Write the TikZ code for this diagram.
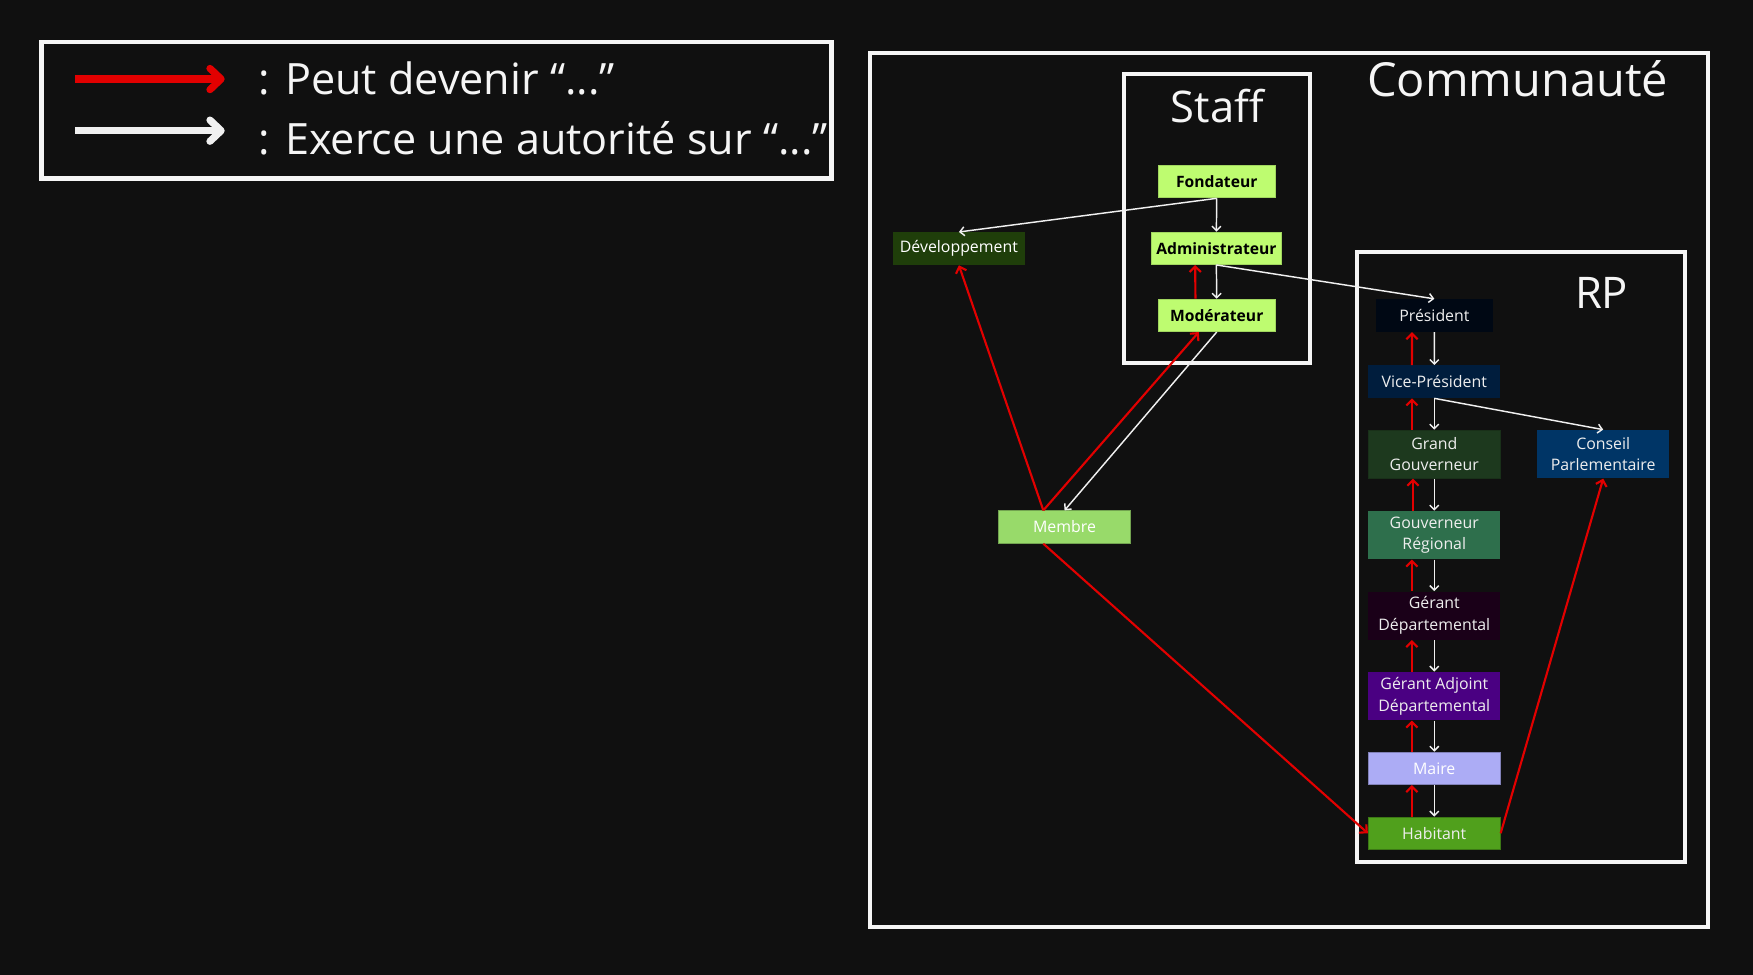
\documentclass[tikz,border=0pt]{standalone}
\usepackage{fontspec}
\setmainfont{Open Sans}
\usetikzlibrary{arrows.meta}
\definecolor{bgc}{RGB}{16,16,16}
\definecolor{framec}{RGB}{245,245,245}
\definecolor{txtc}{RGB}{238,238,238}
\definecolor{redc}{RGB}{226,0,0}
\definecolor{whc}{RGB}{240,240,240}
\definecolor{staffc}{RGB}{190,252,112}
\definecolor{devc}{RGB}{31,62,10}
\definecolor{membc}{RGB}{152,218,106}
\definecolor{presc}{RGB}{0,8,20}
\definecolor{vpc}{RGB}{0,29,61}
\definecolor{ggc}{RGB}{29,57,30}
\definecolor{cpc}{RGB}{0,53,102}
\definecolor{grc}{RGB}{46,111,76}
\definecolor{gdc}{RGB}{26,0,24}
\definecolor{gadc}{RGB}{74,0,130}
\definecolor{mairec}{RGB}{172,172,245}
\definecolor{habc}{RGB}{80,160,28}
\tikzset{
  rolebox/.style={inner sep=0pt, minimum height=14.5pt, minimum width=59pt,
    align=center, text=txtc, font=\fontsize{7.1}{9.7}\selectfont, line width=0.4pt},
  tallbox/.style={rolebox, minimum height=21.5pt},
  staffbox/.style={rolebox, fill=staffc, draw=staffc!85!black, text=black,
    font=\fontsize{7}{9.7}\selectfont\bfseries},
  frame/.style={draw=framec, line width=1.8pt},
  authority/.style={draw=whc, line width=0.65pt, -{Straight Barb[length=2pt,width=4pt]}},
  becomes/.style={draw=redc, line width=0.95pt, -{Straight Barb[length=2.5pt,width=5pt]}},
  legarrow/.style={line width=3.2pt, -{Straight Barb[length=5pt,width=9.5pt,round]}},
  titletext/.style={text=framec, inner sep=0pt, anchor=base},
  legtext/.style={titletext, anchor=base west, font=\fontsize{19.3}{23}\selectfont},
}
\begin{document}
\begin{tikzpicture}[x=0.5pt,y=-0.5pt]
\fill[bgc] (0,0) rectangle (1568,872);
\useasboundingbox (0,0) rectangle (1568,872);

% legend
\draw[frame, line width=2pt] (37.3,37.6) rectangle (743.9,159.5);
\coordinate (lr1) at (67,70.7);
\coordinate (lr2) at (201,70.7);
\coordinate (lw1) at (67,116.9);
\coordinate (lw2) at (201,116.9);
\draw[legarrow, redc] (lr1) -- (lr2);
\draw[legarrow, whc] (lw1) -- (lw2);
\node[legtext] (leg1) at (231,84.1) {: Peut devenir “...”};
\node[legtext] (leg2) at (231,137.8) {: Exerce une autorité sur “...”};

% frames
\draw[frame] (778,47.7) rectangle (1527.5,829.5);
\draw[frame] (1005.3,66) rectangle (1172,325);
\draw[frame] (1213.8,225) rectangle (1507.5,771);
\node[titletext, font=\fontsize{21}{25}\selectfont] (tcom) at (1357.5,86.5) {Communauté};
\node[titletext, font=\fontsize{19.5}{23}\selectfont] (tstaff) at (1088.9,109.4) {Staff};
\node[titletext, font=\fontsize{19.5}{23}\selectfont] (trp) at (1432.6,275.8) {RP};

% staff nodes
\node[staffbox, minimum width=52.2pt] (fond) at (1088.3,162.5) {Fondateur};
\node[staffbox, minimum width=57.8pt] (admin) at (1088,222.1) {Administrateur};
\node[staffbox, minimum width=52.2pt] (mod) at (1088.3,282.1) {Modérateur};

% community nodes
\node[rolebox, fill=devc, text=white] (dev) at (857.7,222.4) {Développement};
\node[rolebox, fill=membc, draw=membc!75!black, text=white] (memb) at (952.2,471.4) {Membre};

% RP nodes
\node[rolebox, fill=presc, minimum width=52.2pt] (pres) at (1283,282.2) {Président};
\node[rolebox, fill=vpc] (vp) at (1282.9,341.4) {Vice-Président};
\node[tallbox, fill=ggc, draw=ggc!85!black] (gg) at (1282.9,406.2) {Grand\\Gouverneur};
\node[tallbox, fill=cpc] (cp) at (1434,406.2) {Conseil\\Parlementaire};
\node[tallbox, fill=grc] (gr) at (1282.9,478.6) {Gouverneur\\Régional};
\node[tallbox, fill=gdc] (gd) at (1282.9,550.6) {Gérant\\Départemental};
\node[tallbox, fill=gadc] (gad) at (1282.9,622.6) {Gérant Adjoint\\Départemental};
\node[rolebox, fill=mairec, draw=mairec!75!black, text=white] (maire) at (1282.9,687.3) {Maire};
\node[rolebox, fill=habc, draw=habc!75!black] (hab) at (1282.9,745.3) {Habitant};

% authority (white)
\draw[authority] (fond.south) -- (admin.north);
\draw[authority] (fond.south) -- (dev.north);
\draw[authority] (admin.south) -- (mod.north);
\draw[authority] (admin.south) -- (pres.north);
\draw[authority] (mod.south) -- (memb.north);
\draw[authority] (pres.south) -- (vp.north);
\draw[authority] (vp.south) -- (gg.north);
\draw[authority] (vp.south) -- (cp.north);
\draw[authority] (gg.south) -- (gr.north);
\draw[authority] (gr.south) -- (gd.north);
\draw[authority] (gd.south) -- (gad.north);
\draw[authority] (gad.south) -- (maire.north);
\draw[authority] (maire.south) -- (hab.north);

% can become (red)
\draw[becomes] ([xshift=-9.5pt]mod.north) -- ([xshift=-9.5pt]admin.south);
\draw[becomes] ([xshift=-9.5pt]memb.north) -- (dev.south);
\draw[becomes] ([xshift=-9.5pt]memb.north) -- ([xshift=-8pt]mod.south);
\draw[becomes] ([xshift=-9.5pt]memb.south) -- (hab.west);
\draw[becomes] (hab.east) -- (cp.south);
\draw[becomes] ([xshift=-10pt]vp.north) -- ([xshift=-10pt]pres.south);
\draw[becomes] ([xshift=-10pt]gg.north) -- ([xshift=-10pt]vp.south);
\draw[becomes] ([xshift=-9.5pt]gr.north) -- ([xshift=-9.5pt]gg.south);
\draw[becomes] ([xshift=-10pt]gd.north) -- ([xshift=-10pt]gr.south);
\draw[becomes] ([xshift=-10pt]gad.north) -- ([xshift=-10pt]gd.south);
\draw[becomes] ([xshift=-10pt]maire.north) -- ([xshift=-10pt]gad.south);
\draw[becomes] ([xshift=-10pt]hab.north) -- ([xshift=-10pt]maire.south);
\end{tikzpicture}
\end{document}
